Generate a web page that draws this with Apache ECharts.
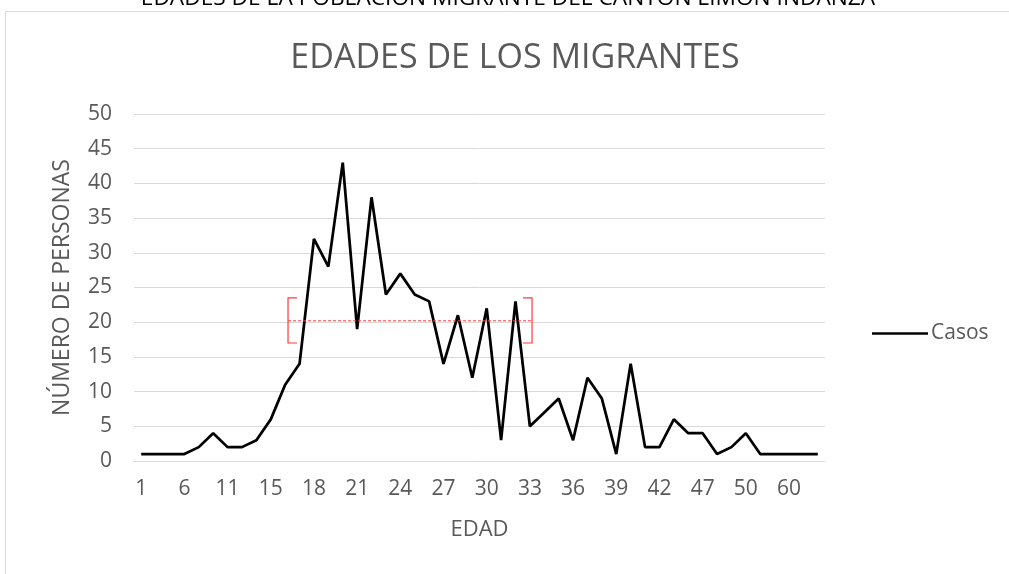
<!DOCTYPE html>
<html>
<head>
<meta charset="utf-8">
<style>
  html, body { margin: 0; padding: 0; background: #fff; }
  #chart { width: 1009px; height: 574px; }
</style>
<script src="https://cdn.jsdelivr.net/npm/echarts@6/dist/echarts.min.js"></script>
</head>
<body>
<div id="chart"></div>
<script>
// Ages (category axis) and number of migrants per age
const edades = [1, 2, 4, 6, 7, 9, 11, 12, 14, 15, 16, 17, 18, 19, 20, 21, 22, 23, 24, 25,
  26, 27, 28, 29, 30, 31, 32, 33, 34, 35, 36, 37, 38, 39, 40, 41, 42, 44, 45, 47,
  48, 49, 50, 52, 55, 60, 62, 65];
const casos = [1, 1, 1, 1, 2, 4, 2, 2, 3, 6, 11, 14, 32, 28, 43, 19, 38, 24, 27, 24,
  23, 14, 21, 12, 22, 3, 23, 5, 7, 9, 3, 12, 9, 1, 14, 2, 2, 6, 4, 4,
  1, 2, 4, 1, 1, 1, 1, 1];

// Highlighted band: [start index, end index] and [low, level, high] in persons
const bandX = [10.2, 27.15];
const bandY = [17.0, 20.2, 23.5];

const font = 'Open Sans, Noto Sans, sans-serif';
const gray = '#595959';

const chart = echarts.init(document.getElementById('chart'));

chart.setOption({
  animation: false,
  backgroundColor: '#fff',
  graphic: [{
    type: 'rect',
    shape: { x: 5.5, y: 11.5, width: 1010, height: 580 },
    style: { fill: 'none', stroke: '#d9d9d9', lineWidth: 1 },
    silent: true,
    z: -1
  }],
  title: [{
    text: 'EDADES DE LA POBLACIÓN MIGRANTE DEL CANTÓN LIMÓN INDANZA',
    left: 503,
    textAlign: 'center',
    top: -18,
    textStyle: { fontFamily: font, fontSize: 22.7, fontWeight: 'normal', color: '#000' }
  }, {
    text: 'EDADES DE LOS MIGRANTES',
    left: 510,
    textAlign: 'center',
    top: 36,
    textStyle: { fontFamily: font, fontSize: 34, fontWeight: 'normal', color: gray }
  }],
  legend: {
    left: 867,
    top: 318,
    itemWidth: 56,
    itemHeight: 14,
    itemGap: 5,
    textStyle: { fontFamily: font, fontSize: 21, color: gray, padding: [0, 0, 0, -2] },
    data: [{ name: 'Casos', icon: 'path://M0,0 L56,0 L56,2.5 L0,2.5 Z', itemStyle: { color: '#000' } }]
  },
  grid: { left: 134, right: 184, top: 114, bottom: 113 },
  xAxis: [{
    type: 'category',
    data: edades,
    boundaryGap: true,
    name: 'EDAD',
    nameLocation: 'middle',
    nameGap: 58,
    nameTextStyle: { fontFamily: font, fontSize: 22, color: gray },
    axisLine: { lineStyle: { color: '#d9d9d9', width: 1 } },
    axisTick: { show: false },
    axisLabel: { interval: 2, margin: 18, fontFamily: font, fontSize: 21, color: gray }
  }, {
    type: 'value',
    min: -0.5,
    max: edades.length - 0.5,
    show: false
  }],
  yAxis: {
    type: 'value',
    min: 0,
    max: 50,
    interval: 5,
    name: 'NÚMERO DE PERSONAS',
    nameLocation: 'middle',
    nameGap: 60,
    nameTextStyle: { fontFamily: font, fontSize: 23, color: gray },
    axisLine: { show: false },
    axisTick: { show: false },
    axisLabel: { margin: 22, fontFamily: font, fontSize: 21, color: gray },
    splitLine: { lineStyle: { color: '#d9d9d9', width: 1 } }
  },
  series: [{
    name: 'Casos',
    type: 'line',
    data: casos,
    symbol: 'none',
    lineStyle: { color: '#000', width: 2.75 },
    itemStyle: { color: '#000' },
    z: 3
  }, {
    // red bracketed reference band
    type: 'custom',
    xAxisIndex: 1,
    data: [[bandX[0], bandX[1], bandY[0], bandY[1], bandY[2]]],
    silent: true,
    z: 4,
    renderItem: function (params, api) {
      const x0 = api.value(0), x1 = api.value(1);
      const lo = api.value(2), mid = api.value(3), hi = api.value(4);
      const a = api.coord([x0, hi]), b = api.coord([x0, lo]);
      const c = api.coord([x1, hi]), d = api.coord([x1, lo]);
      const m0 = api.coord([x0, mid]), m1 = api.coord([x1, mid]);
      const arm = 9;
      const red = '#ff3b3b';
      return {
        type: 'group',
        children: [{
          type: 'polyline',
          shape: { points: [[a[0] + arm, a[1]], a, b, [b[0] + arm, b[1]]] },
          style: { fill: 'none', stroke: red, lineWidth: 1.2 }
        }, {
          type: 'polyline',
          shape: { points: [[c[0] - arm, c[1]], c, d, [d[0] - arm, d[1]]] },
          style: { fill: 'none', stroke: red, lineWidth: 1.2 }
        }, {
          type: 'line',
          shape: { x1: m0[0], y1: m0[1], x2: m1[0], y2: m1[1] },
          style: { stroke: red, lineWidth: 1, lineDash: [3, 2] }
        }]
      };
    }
  }]
});
</script>
</body>
</html>
